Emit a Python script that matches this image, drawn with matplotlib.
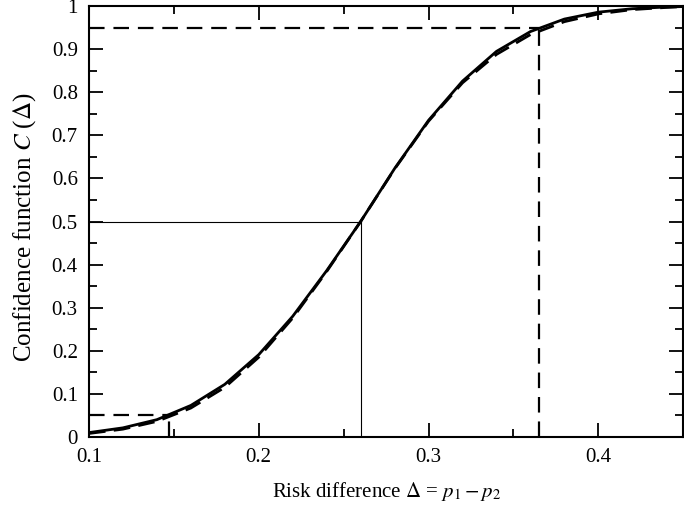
import matplotlib
matplotlib.use("Agg")
import matplotlib.pyplot as plt
import numpy as np

plt.rcParams['font.family'] = 'Liberation Serif'
plt.rcParams['mathtext.fontset'] = 'stix'

# Confidence curves
delta = [0.10, 0.12, 0.14, 0.16, 0.18, 0.20, 0.22, 0.24, 0.26, 0.28,
         0.30, 0.32, 0.34, 0.36, 0.38, 0.40, 0.42, 0.44, 0.45]
conf_solid = [0.010, 0.021, 0.040, 0.073, 0.122, 0.191, 0.280, 0.386, 0.500, 0.623,
              0.735, 0.826, 0.895, 0.941, 0.970, 0.986, 0.994, 0.998, 0.999]
conf_dashed = [0.008, 0.018, 0.036, 0.067, 0.115, 0.185, 0.276, 0.384, 0.500, 0.622,
               0.733, 0.822, 0.888, 0.934, 0.964, 0.982, 0.992, 0.997, 0.999]

# reference levels: (level, delta where curve hits it)
lower = (0.05, 0.147)
median = (0.5, 0.26)
upper = (0.95, 0.365)

fig = plt.figure(figsize=(6.84, 5.11), dpi=100)
ax = fig.add_axes([0.130, 0.145, 0.869, 0.843])

ax.plot(delta, conf_solid, color='black', lw=2.0)
ax.plot(delta, conf_dashed, color='black', lw=2.0, dashes=(6, 3))

for (lev, d), style, w in [(lower, '--', 1.6), (upper, '--', 1.6), (median, '-', 0.8)]:
    ls = dict(color='black', lw=w)
    if style == '--':
        ls['dashes'] = (7, 4)
    ax.plot([0.1, d], [lev, lev], **ls)
    ax.plot([d, d], [0, lev], **ls)

ax.set_xlim(0.1, 0.45)
ax.set_ylim(0, 1)
ax.set_xticks([0.1, 0.2, 0.3, 0.4])
ax.set_xticklabels(['0.1', '0.2', '0.3', '0.4'])
ax.set_xticks(np.arange(0.15, 0.45, 0.1), minor=True)
yt = np.round(np.arange(0, 1.01, 0.1), 1)
ax.set_yticks(yt)
ax.set_yticklabels(['0'] + ['%.1f' % v for v in yt[1:-1]] + ['1'])
ax.set_yticks(np.arange(0.05, 1.0, 0.1), minor=True)

ax.tick_params(which='both', direction='in', top=True, right=True, labelsize=15, width=1.3)
ax.tick_params(which='major', length=10)
ax.tick_params(which='minor', length=6)
ax.tick_params(axis='x', pad=8)
ax.tick_params(axis='y', pad=8)
for s in ax.spines.values():
    s.set_linewidth(1.5)

ax.set_xlabel(r'Risk difference $\Delta$ = $p_1 - p_2$', fontsize=15, labelpad=9)
ax.set_ylabel(r'Confidence function $C$ ($\Delta$)', fontsize=18)
ax.yaxis.set_label_coords(-0.085, 0.487)

fig.savefig('out.png', dpi=100)
